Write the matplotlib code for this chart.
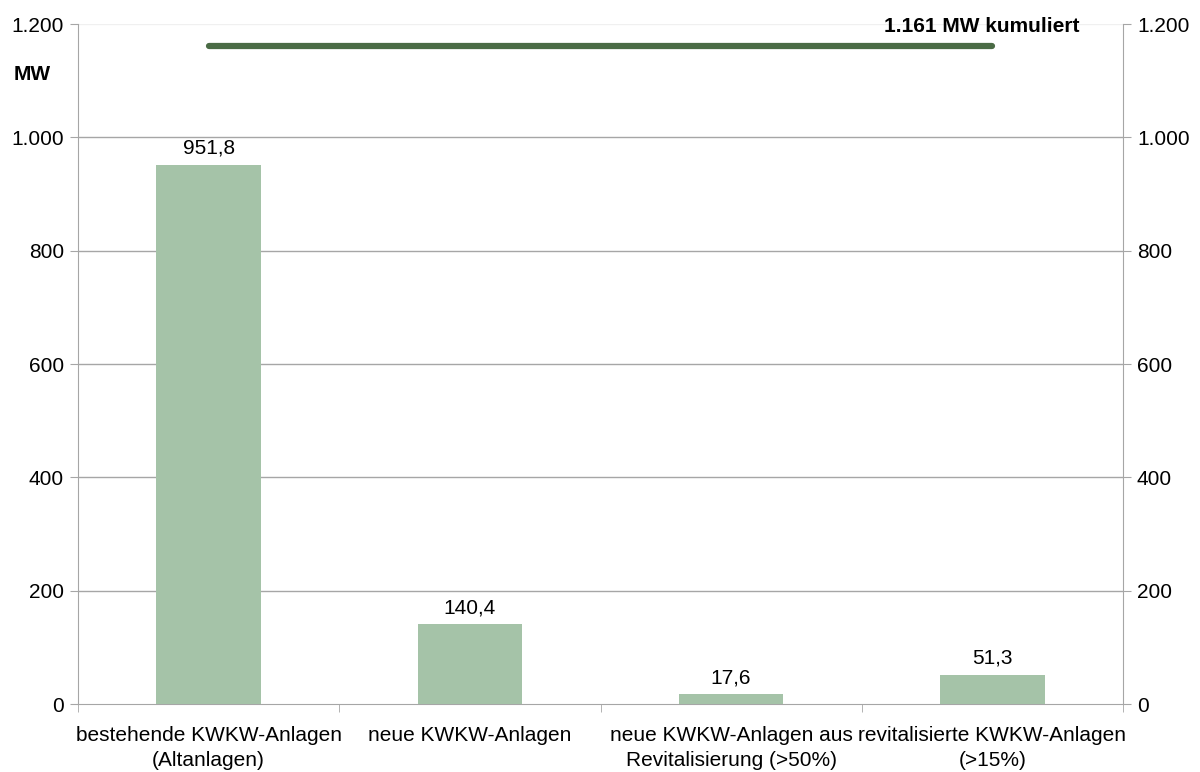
import matplotlib
matplotlib.use("Agg")
import matplotlib.pyplot as plt
from matplotlib.ticker import FuncFormatter, FixedLocator

plt.rcParams['font.family'] = ['Liberation Sans', 'DejaVu Sans']

categories = ["bestehende KWKW-Anlagen\n(Altanlagen)", "neue KWKW-Anlagen",
              "neue KWKW-Anlagen aus\nRevitalisierung (>50%)", "revitalisierte KWKW-Anlagen\n(>15%)"]
values = [951.8, 140.4, 17.6, 51.3]
value_labels = ["951,8", "140,4", "17,6", "51,3"]
cumulative = 1161
cumulative_label = "1.161 MW kumuliert"
yticks = [0, 200, 400, 600, 800, 1000, 1200]

FS = 15
W, H = 1200, 772
fig = plt.figure(figsize=(W/100, H/100), dpi=100)
ax = fig.add_axes([78/W, 1-704/H, (1123-78)/W, (704-24)/H])

x = list(range(len(categories)))
ax.bar(x, values, width=0.4, color='#a5c3a8', zorder=3)
ax.set_xlim(-0.5, len(categories)-0.5)
ax.set_ylim(0, 1200)

for xi, v, lab in zip(x, values, value_labels):
    ax.annotate(lab, (xi, v), xytext=(0, 5), textcoords='offset points',
                ha='center', va='bottom', fontsize=FS, color='black')

ax.plot([x[0], x[-1]], [cumulative, cumulative], color='#4a6b45', lw=4.5,
        solid_capstyle='round', zorder=4)
ax.text(1080/W, 1-26/H, cumulative_label, transform=fig.transFigure,
        ha='right', va='center', fontsize=FS, fontweight='bold')
fig.text(14/W, 1-74/H, "MW", ha='left', va='center', fontsize=FS, fontweight='bold')

fmt = FuncFormatter(lambda v, p: f"{int(v):,}".replace(",", "."))
ax.set_yticks(yticks)
ax.yaxis.set_major_formatter(fmt)
for t in yticks[1:-1]:
    ax.axhline(t, color='#a6a6a6', lw=1, zorder=1)
ax.axhline(1200, color='#f0f0f0', lw=1, zorder=1)

ax.set_xticks(x)
ax.set_xticklabels(categories, fontsize=FS, linespacing=1.4)
ax.tick_params(axis='x', length=0, pad=16)
ax.xaxis.set_minor_locator(FixedLocator([i+0.5 for i in x[:-1]] + [-0.5, len(x)-0.5]))
ax.tick_params(axis='x', which='minor', length=6, color='#a6a6a6')
ax.tick_params(axis='y', length=6, color='#a6a6a6', labelsize=FS, pad=4)

ax2 = ax.twinx()
ax2.set_ylim(0, 1200)
ax2.set_yticks(yticks)
ax2.yaxis.set_major_formatter(fmt)
ax2.tick_params(axis='y', length=6, color='#a6a6a6', labelsize=FS, pad=4)

for a in (ax, ax2):
    a.spines['top'].set_visible(False)
    for s in ['left', 'right', 'bottom']:
        a.spines[s].set_color('#a6a6a6')
ax.spines['right'].set_visible(False)
ax2.spines['left'].set_visible(False)
ax2.spines['bottom'].set_visible(False)

fig.savefig("out.png", dpi=100, facecolor='white')
